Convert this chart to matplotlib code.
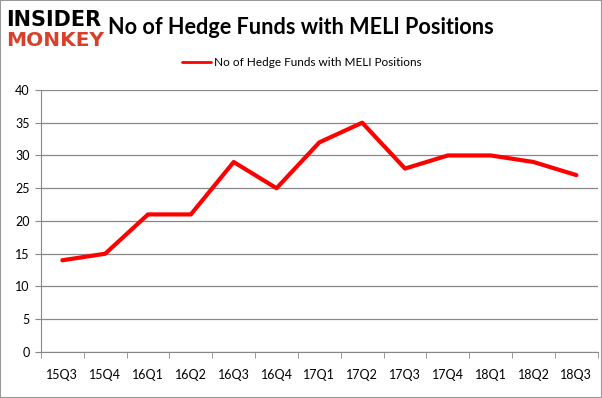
import matplotlib
matplotlib.use("Agg")
import matplotlib.pyplot as plt
from matplotlib.patches import Rectangle

plt.rcParams["font.family"] = ["Lato", "DejaVu Sans"]

quarters = ["15Q3", "15Q4", "16Q1", "16Q2", "16Q3", "16Q4", "17Q1", "17Q2",
            "17Q3", "17Q4", "18Q1", "18Q2", "18Q3"]
funds = [14, 15, 21, 21, 29, 25, 32, 35, 28, 30, 30, 29, 27]
yticks = [0, 5, 10, 15, 20, 25, 30, 35, 40]

fig = plt.figure(figsize=(6.02, 3.98), dpi=100)
ax = fig.add_axes([0.068, 0.1156, 0.925, 0.6584])

x = list(range(len(quarters)))
ax.plot(x, funds, color="#ff0000", lw=3, solid_capstyle="round",
        label="No of Hedge Funds with MELI Positions")
ax.set_xlim(-0.5, len(quarters) - 0.5)
ax.set_ylim(0, 40)
ax.set_yticks(yticks)
ax.set_yticklabels([str(v) for v in yticks], fontsize=9)
ax.set_xticks(x)
ax.set_xticklabels(quarters, fontsize=9)
ax.tick_params(axis="x", length=0, pad=12)
ax.set_xticks([i - 0.5 for i in range(len(quarters) + 1)], minor=True)
ax.tick_params(axis="x", which="minor", length=4, color="#888888", direction="out")
ax.tick_params(axis="y", length=4, color="#888888", pad=4)
ax.yaxis.grid(True, color="#888888", lw=0.9)
ax.set_axisbelow(True)
for s in ["top", "right"]:
    ax.spines[s].set_visible(False)
for s in ["left", "bottom"]:
    ax.spines[s].set_color("#888888")

leg = fig.legend(loc="center", bbox_to_anchor=(0.502, 0.843), frameon=False, fontsize=8.5,
                 handlelength=2.4, handletextpad=0.3)
for h in leg.get_lines():
    h.set_linewidth(2)

fig.text(0.179, 0.932, "No of Hedge Funds with MELI Positions", fontsize=15.6,
         fontweight="bold", va="center", ha="left")
fig.text(0.01, 0.95, "INSIDER", fontsize=15, fontweight="black", color="black",
         va="center", ha="left", family="DejaVu Sans")
fig.text(0.01, 0.897, "MONKEY", fontsize=14.5, fontweight="black", color="#d9402a",
         va="center", ha="left", family="DejaVu Sans")

fig.patches.append(Rectangle((0, 0), 1, 1, transform=fig.transFigure, fill=False,
                             edgecolor="#999999", lw=1.5))

fig.savefig("out.png", dpi=100)
